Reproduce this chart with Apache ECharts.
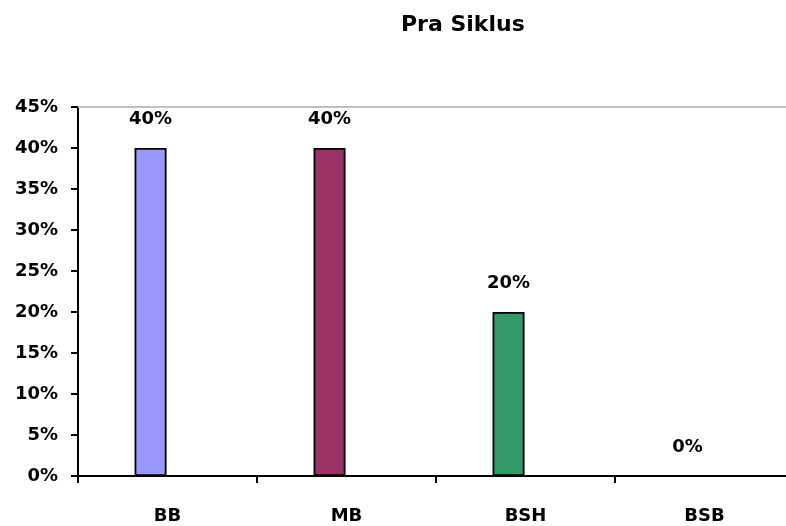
<!DOCTYPE html>
<html>
<head>
<meta charset="utf-8">
<script src="https://cdn.jsdelivr.net/npm/echarts@6/dist/echarts.min.js"></script>
<style>
  html, body { margin: 0; padding: 0; background: #ffffff; overflow: hidden; }
  /* the plot area runs a little past the right edge of the window */
  #chart { width: 794px; height: 526px; }
</style>
</head>
<body>
<div id="chart"></div>
<script>
// Share of students per category before the cycle (percent)
const categories = ['BB', 'MB', 'BSH', 'BSB'];
const values = [40, 40, 20, 0];
const barColors = ['#9999FF', '#993366', '#339966', '#FFFFCC'];
const yTicks = { min: 0, max: 45, interval: 5 };

const FONT = 'DejaVu Sans';

const chart = echarts.init(document.getElementById('chart'), null, { renderer: 'canvas' });

chart.setOption({
  animation: false,
  backgroundColor: '#ffffff',
  title: {
    text: 'Pra Siklus',
    left: 396,
    top: 9,
    textStyle: { fontFamily: FONT, fontWeight: 'bold', fontSize: 22, color: '#000' }
  },
  grid: { left: 78, top: 107, right: 0, bottom: 50, containLabel: false },
  xAxis: {
    type: 'category',
    data: categories,
    boundaryGap: true,
    axisLine: { show: true, lineStyle: { color: '#000', width: 2 } },
    axisTick: { show: true, inside: false, length: 7, lineStyle: { color: '#000', width: 2 } },
    axisLabel: {
      margin: 31,
      fontFamily: FONT, fontWeight: 'bold', fontSize: 18, color: '#000'
    },
    splitLine: { show: false }
  },
  yAxis: {
    type: 'value',
    min: yTicks.min,
    max: yTicks.max,
    interval: yTicks.interval,
    axisLine: { show: true, lineStyle: { color: '#000', width: 2 } },
    axisTick: { show: true, inside: false, length: 7, lineStyle: { color: '#000', width: 2 } },
    axisLabel: {
      formatter: '{value}%',
      margin: 20,
      fontFamily: FONT, fontWeight: 'bold', fontSize: 18, color: '#000'
    },
    splitLine: { show: false }
  },
  series: [{
    name: 'Pra Siklus',
    type: 'bar',
    barWidth: 32,
    barGap: '6%',
    data: values.map((v, i) => ({
      value: v,
      itemStyle: { color: barColors[i], borderColor: '#000', borderWidth: v > 0 ? 1.8 : 0 }
    })),
    label: {
      show: true,
      position: 'top',
      distance: 20,
      formatter: p => p.value + '%',
      fontFamily: FONT, fontWeight: 'bold', fontSize: 18, color: '#000'
    },
    markLine: {
      silent: true,
      symbol: 'none',
      label: { show: false },
      lineStyle: { color: '#c0c0c0', width: 2, type: 'solid' },
      data: [{ yAxis: yTicks.max }]
    }
  }, {
    // second slot of each category group is left without bars
    name: 'kosong',
    type: 'bar',
    barWidth: 32,
    data: []
  }]
});
</script>
</body>
</html>
